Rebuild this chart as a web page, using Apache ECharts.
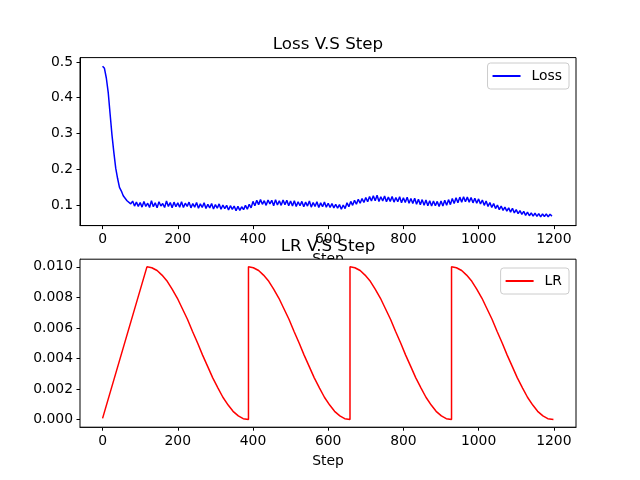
<!DOCTYPE html>
<html><head><meta charset="utf-8">
<script src="https://cdn.jsdelivr.net/npm/echarts@6/dist/echarts.min.js"></script>
<style>html,body{margin:0;padding:0;background:#fff}#c{width:640px;height:480px}</style>
</head><body><div id="c"></div>
<script>
// ---- data ----
const lossStepSize = 5;
const lossValues = [
0.488,0.482,0.455,0.415,0.355,0.296,0.247,0.203,0.174,0.149,0.139,0.126,0.123,0.112,0.116,0.103,0.111,0.097,0.108,0.096,
0.107,0.094,0.110,0.096,0.105,0.093,0.112,0.095,0.106,0.092,0.109,0.097,0.104,0.093,0.111,0.096,0.107,0.092,0.108,0.095,
0.106,0.094,0.109,0.093,0.105,0.096,0.108,0.092,0.104,0.094,0.107,0.091,0.103,0.093,0.106,0.090,0.102,0.092,0.104,0.089,
0.101,0.091,0.103,0.088,0.100,0.090,0.099,0.086,0.098,0.088,0.097,0.084,0.096,0.085,0.095,0.087,0.099,0.088,0.102,0.092,
0.110,0.098,0.113,0.101,0.115,0.102,0.112,0.099,0.114,0.103,0.113,0.098,0.115,0.100,0.112,0.099,0.114,0.101,0.113,0.098,
0.111,0.097,0.112,0.096,0.109,0.098,0.110,0.095,0.108,0.097,0.111,0.094,0.107,0.096,0.109,0.093,0.106,0.095,0.108,0.094,
0.105,0.093,0.104,0.092,0.102,0.091,0.101,0.088,0.100,0.090,0.106,0.095,0.110,0.099,0.113,0.102,0.116,0.105,0.118,0.107,
0.121,0.109,0.124,0.111,0.126,0.112,0.127,0.110,0.123,0.111,0.125,0.109,0.122,0.110,0.124,0.108,0.121,0.109,0.123,0.106,
0.120,0.107,0.122,0.105,0.118,0.104,0.119,0.102,0.116,0.101,0.115,0.099,0.114,0.098,0.112,0.097,0.111,0.098,0.110,0.096,
0.111,0.097,0.113,0.099,0.115,0.101,0.118,0.104,0.120,0.106,0.122,0.108,0.123,0.109,0.122,0.108,0.121,0.106,0.119,0.105,
0.117,0.103,0.114,0.099,0.111,0.096,0.107,0.093,0.104,0.090,0.100,0.087,0.097,0.085,0.094,0.083,0.092,0.080,0.091,0.078,
0.087,0.076,0.084,0.074,0.082,0.071,0.080,0.070,0.078,0.069,0.077,0.068,0.076,0.067,0.075,0.068,0.075,0.067,0.074,0.069
];
const lrSteps = [
0,
118,131,145,158,172,185,199,212,226,239,253,266,280,293,307,320,334,347,361,374,388,
388,401,415,428,442,455,469,482,496,509,523,536,550,563,577,590,604,617,631,644,658,
658,671,685,698,712,725,739,752,766,779,793,806,820,833,847,860,874,887,901,914,928,
928,941,955,968,982,995,1009,1022,1036,1049,1063,1076,1090,1103,1117,1130,1144,1157,1171,1184,1199
];
const lrValues = [
0.00008,
0.01,0.00994,0.00976,0.00946,0.00905,0.00854,0.00794,0.00727,0.00655,0.00578,0.005,0.00422,0.00345,0.00273,0.00206,0.00146,0.00095,0.00054,0.00024,0.00006,0.00001,
0.01,0.00994,0.00976,0.00946,0.00905,0.00854,0.00794,0.00727,0.00655,0.00578,0.005,0.00422,0.00345,0.00273,0.00206,0.00146,0.00095,0.00054,0.00024,0.00006,0.00001,
0.01,0.00994,0.00976,0.00946,0.00905,0.00854,0.00794,0.00727,0.00655,0.00578,0.005,0.00422,0.00345,0.00273,0.00206,0.00146,0.00095,0.00054,0.00024,0.00006,0.00001,
0.01,0.00994,0.00976,0.00946,0.00905,0.00854,0.00794,0.00727,0.00655,0.00578,0.005,0.00422,0.00345,0.00273,0.00206,0.00146,0.00095,0.00054,0.00024,0.00006,0.00001
];
const xTicks = [0,200,400,600,800,1000,1200];
const lossTicks = [0.1,0.2,0.3,0.4,0.5];
const lrTicks = [0,0.002,0.004,0.006,0.008,0.010];

// ---- chart ----
const FONT = 'DejaVu Sans';
const lossData = lossValues.map((v,i)=>[i*lossStepSize, v]);
const lrData = lrValues.map((v,i)=>[lrSteps[i], v]);

function xAxis(gi){
  return {
    type:'value', gridIndex:gi, min:-60, max:1259,
    name:'Step', nameLocation:'middle', nameGap:27,
    nameTextStyle:{fontFamily:FONT,fontSize:13.9,color:'#000'},
    splitLine:{show:false}, axisLine:{show:true,onZero:false,lineStyle:{color:'#000',width:1}},
    axisTick:{show:true,length:3.5,customValues:xTicks,lineStyle:{color:'#000',width:1}},
    axisLabel:{customValues:xTicks,margin:7,fontFamily:FONT,fontSize:13.9,color:'#000',
      formatter:v=>String(Math.round(v))}
  };
}
function yAxis(gi,min,max,ticks,dec){
  return {
    type:'value', gridIndex:gi, min:min, max:max,
    splitLine:{show:false}, axisLine:{show:true,onZero:false,lineStyle:{color:'#000',width:1}},
    axisTick:{show:true,length:3.5,customValues:ticks,lineStyle:{color:'#000',width:1}},
    axisLabel:{customValues:ticks,margin:7,fontFamily:FONT,fontSize:13.9,color:'#000',
      formatter:v=>v.toFixed(dec)}
  };
}
function legend(name,top,right){
  return {
    data:[name], top:top, right:right, orient:'vertical',
    icon:'rect', itemWidth:28, itemHeight:2,
    backgroundColor:'#fff', borderColor:'#cccccc', borderWidth:1, borderRadius:3,
    padding:[6,7,6,5],
    textStyle:{fontFamily:FONT,fontSize:13.9,color:'#000',padding:[0,0,0,6]}
  };
}
const chart = echarts.init(document.getElementById('c'),null,{renderer:'canvas'});
chart.setOption({
  animation:false,
  backgroundColor:'#fff',
  title:[
    {text:'Loss V.S Step', left:323, top:31, textAlign:'center',
     textStyle:{fontFamily:FONT,fontSize:16.7,fontWeight:'normal',color:'#000'}},
    {text:'LR V.S Step', left:323, top:233, textAlign:'center', z:10,
     textStyle:{fontFamily:FONT,fontSize:16.7,fontWeight:'normal',color:'#000'}}
  ],
  legend:[legend('Loss',63,71), legend('LR',268,71)],
  grid:[
    {left:80, top:57.6, width:496, height:168, show:true, borderColor:'#000', borderWidth:1, backgroundColor:'#fff'},
    {left:80, top:259.2, width:496, height:168, show:true, borderColor:'#000', borderWidth:1, backgroundColor:'#fff', z:3}
  ],
  xAxis:[xAxis(0), xAxis(1)],
  yAxis:[yAxis(0,0.0424,0.512,lossTicks,1), yAxis(1,-0.0005,0.0105,lrTicks,3)],
  series:[
    {name:'Loss', type:'line', xAxisIndex:0, yAxisIndex:0, data:lossData, showSymbol:false, symbol:'none', sampling:null,
     lineStyle:{color:'#0000ff',width:1.5}, itemStyle:{color:'#0000ff'}},
    {name:'LR', type:'line', xAxisIndex:1, yAxisIndex:1, data:lrData, showSymbol:false, symbol:'none', z:5,
     lineStyle:{color:'#ff0000',width:1.5}, itemStyle:{color:'#ff0000'}}
  ]
});
</script></body></html>
